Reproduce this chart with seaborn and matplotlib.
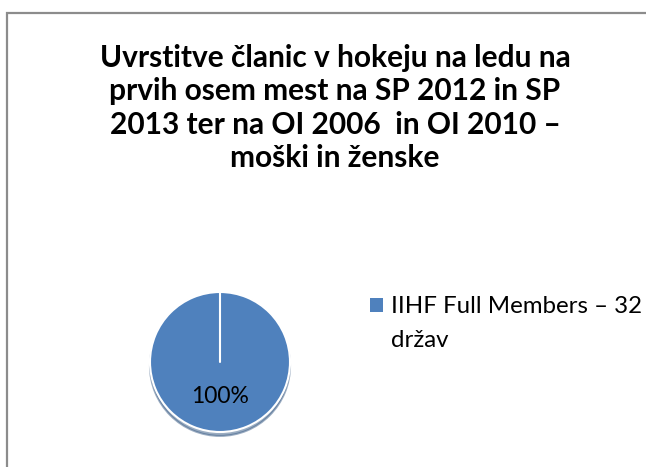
import matplotlib
matplotlib.use("Agg")
import matplotlib.pyplot as plt
import seaborn as sns
from matplotlib.patches import Rectangle

# Data
categories = ["IIHF Full Members – 32\ndržav"]
values = [100]
title_text = ("Uvrstitve članic v hokeju na ledu na\n"
              "prvih osem mest na SP 2012 in SP\n"
              "2013 ter na OI 2006  in OI 2010 –\n"
              "moški in ženske")

sns.set_theme(style="white")
plt.rcParams['font.family'] = ['Lato', 'DejaVu Sans']

W, H = 646, 467
fig = plt.figure(figsize=(W / 100, H / 100), dpi=100)
fig.patch.set_facecolor("white")

# outer border
fig.patches.append(Rectangle((7 / W, -0.01), 1.0, 1 - 13 / H + 0.01,
                             transform=fig.transFigure, fill=False,
                             edgecolor="#8c8c8c", linewidth=1.6))

# title
fig.text(335 / W, 1 - 108 / H, title_text, ha="center", va="center",
         fontsize=21.5, fontweight="bold", color="black", linespacing=1.22)

palette = ["#4F81BD"]
cx, cy, r = 220, 362, 70
ax = fig.add_axes([(cx - r) / W, 1 - (cy + r) / H, 2 * r / W, 2 * r / H])
wedges, texts, autotexts = ax.pie(values, colors=palette, startangle=90,
                                  counterclock=False, autopct="%1.0f%%",
                                  pctdistance=0.5,
                                  wedgeprops=dict(edgecolor="white", linewidth=1.5),
                                  shadow=dict(ox=0.0, oy=-0.04, shade=0.3),
                                  textprops=dict(fontsize=16.5, color="black"))
ax.plot([0, 0], [0, 1], color="white", lw=1.5, zorder=5)
ax.set_xlim(-1.0, 1.0)
ax.set_ylim(-1.0, 1.0)
ax.set_aspect("equal")
ax.axis("off")

# legend (square marker + label, first line aligned with the marker)
for i, (lab, col) in enumerate(zip(categories, palette)):
    fig.patches.append(Rectangle((370 / W, 1 - 312 / H), 13 / W, 14 / H,
                                 transform=fig.transFigure,
                                 facecolor=col, edgecolor="none"))
    fig.text(391 / W, 1 - 347 / H, lab, ha="left", va="baseline",
             fontsize=17.3, color="black", linespacing=1.75)

fig.savefig("out.png", dpi=100)
